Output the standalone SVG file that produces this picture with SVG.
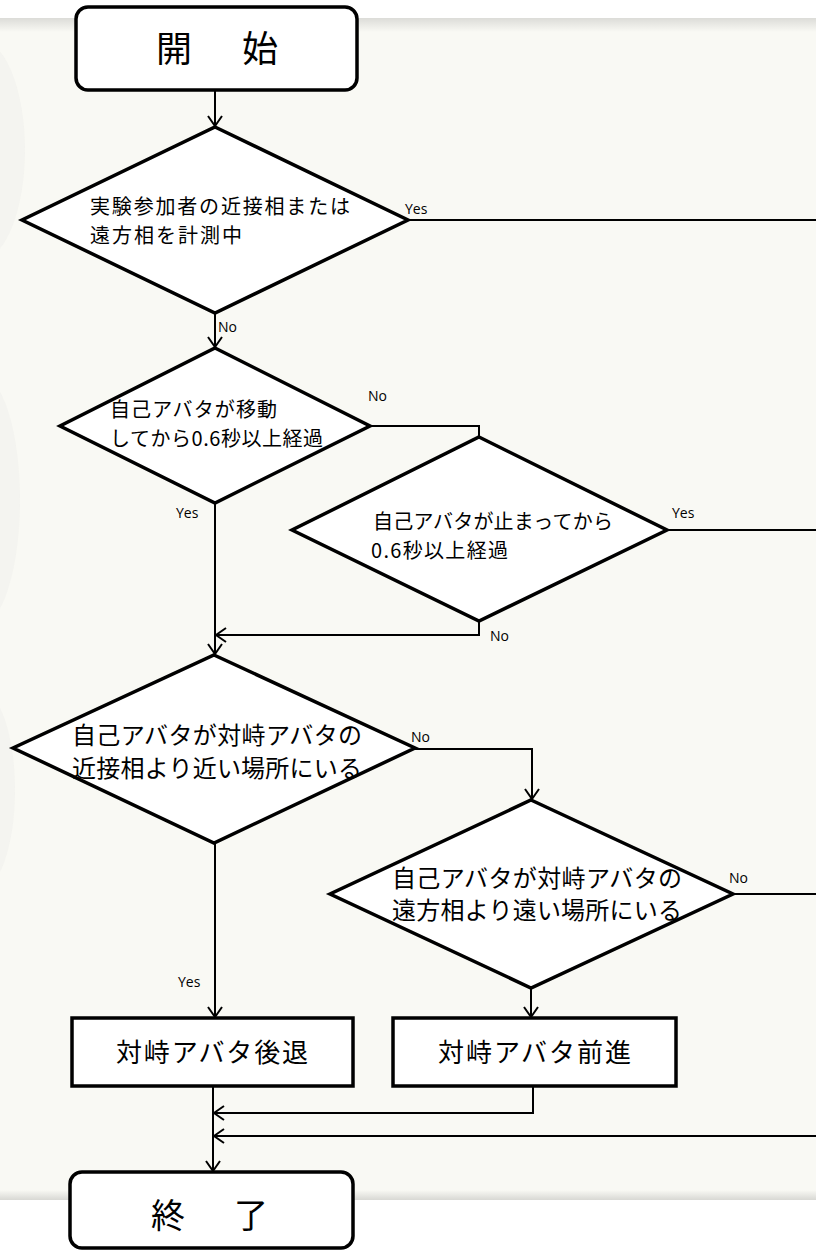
<svg xmlns="http://www.w3.org/2000/svg" width="816" height="1252" viewBox="0 0 816 1252">
<style>
.node{fill:#fff;stroke:#000;stroke-width:3.5;stroke-linejoin:miter}
.con{fill:none;stroke:#000;stroke-width:2}
.jp{font-family:"Noto Sans CJK JP","Noto Sans CJK SC",sans-serif;fill:#000}
.lbl{font-family:"Open Sans","Noto Sans",sans-serif;font-size:14px;fill:#000}
</style>
<defs>
<marker id="arr" markerWidth="14" markerHeight="16" refX="12" refY="8" orient="auto" markerUnits="userSpaceOnUse">
<path d="M2,1 L12,8 L2,15" fill="none" stroke="#000" stroke-width="2"/>
</marker>
<linearGradient id="topsh" x1="0" y1="0" x2="0" y2="1">
<stop offset="0" stop-color="#dcdcd8"/>
<stop offset="1" stop-color="#f9f9f4"/>
</linearGradient>
<linearGradient id="botsh" x1="0" y1="0" x2="0" y2="1">
<stop offset="0" stop-color="#f9f9f4"/>
<stop offset="1" stop-color="#d8d8d4"/>
</linearGradient>
</defs>
<g id="background">
<rect x="0" y="0" width="816" height="1252" fill="#ffffff"/>
<rect x="0" y="18" width="816" height="1182" fill="#f9f9f4"/>
<rect x="0" y="18" width="816" height="14" fill="url(#topsh)"/>
<rect x="0" y="1190" width="816" height="10" fill="url(#botsh)"/>
<ellipse cx="-20" cy="150" rx="45" ry="110" fill="#f0f0ec" opacity="0.6"/>
<ellipse cx="-20" cy="500" rx="40" ry="125" fill="#f0f0ec" opacity="0.6"/>
<ellipse cx="-20" cy="790" rx="35" ry="100" fill="#f0f0ec" opacity="0.6"/>
</g>
<g id="connectors">
<path class="con" d="M215,90 L215,126" marker-end="url(#arr)"/>
<path class="con" d="M215,313 L215,347" marker-end="url(#arr)"/>
<path class="con" d="M408,220 L816,220"/>
<path class="con" d="M370,426 L479,426 L479,437"/>
<path class="con" d="M215,503 L215,654" marker-end="url(#arr)"/>
<path class="con" d="M667,530 L816,530"/>
<path class="con" d="M479,621 L479,635 L216,635" marker-end="url(#arr)"/>
<path class="con" d="M415,749 L532,749 L532,799" marker-end="url(#arr)"/>
<path class="con" d="M215,843 L215,1017" marker-end="url(#arr)"/>
<path class="con" d="M733,894 L816,894"/>
<path class="con" d="M531,988 L531,1017" marker-end="url(#arr)"/>
<path class="con" d="M213,1086 L213,1171" marker-end="url(#arr)"/>
<path class="con" d="M533,1086 L533,1113 L214,1113" marker-end="url(#arr)"/>
<path class="con" d="M816,1136 L214,1136" marker-end="url(#arr)"/>
<text class="lbl" x="405" y="214">Yes</text>
<text class="lbl" x="218" y="332">No</text>
<text class="lbl" x="368" y="401">No</text>
<text class="lbl" x="176" y="518">Yes</text>
<text class="lbl" x="672" y="518">Yes</text>
<text class="lbl" x="490" y="641">No</text>
<text class="lbl" x="411" y="742">No</text>
<text class="lbl" x="729" y="883">No</text>
<text class="lbl" x="178" y="987">Yes</text>
</g>
<g id="start">
<rect class="node" x="76" y="7" width="281" height="83" rx="12"/>
<text class="jp" x="156" y="62" font-size="36" textLength="122" lengthAdjust="spacing">開　始</text>
</g>
<g id="d1">
<polygon class="node" points="215,127 408,220 215,313 22,220"/>
<text class="jp" x="90" y="214" font-size="20" textLength="260" lengthAdjust="spacing">実験参加者の近接相または</text>
<text class="jp" x="90" y="243" font-size="20" textLength="152" lengthAdjust="spacing">遠方相を計測中</text>
</g>
<g id="d2">
<polygon class="node" points="215,348 370,426 215,503 60,426"/>
<text class="jp" x="110" y="417" font-size="20" textLength="167" lengthAdjust="spacing">自己アバタが移動</text>
<text class="jp" x="110" y="446" font-size="20" textLength="213" lengthAdjust="spacing">してから0.6秒以上経過</text>
</g>
<g id="d3">
<polygon class="node" points="479,437 667,530 479,621 292,530"/>
<text class="jp" x="373" y="529" font-size="20" textLength="240" lengthAdjust="spacing">自己アバタが止まってから</text>
<text class="jp" x="371" y="558" font-size="20" textLength="137" lengthAdjust="spacing">0.6秒以上経過</text>
</g>
<g id="d4">
<polygon class="node" points="214,655 415,748 214,843 13,748"/>
<text class="jp" x="72" y="744" font-size="24" textLength="290" lengthAdjust="spacing">自己アバタが対峙アバタの</text>
<text class="jp" x="72" y="777" font-size="24" textLength="290" lengthAdjust="spacing">近接相より近い場所にいる</text>
</g>
<g id="d5">
<polygon class="node" points="531,800 733,894 531,988 330,894"/>
<text class="jp" x="392" y="887" font-size="24" textLength="290" lengthAdjust="spacing">自己アバタが対峙アバタの</text>
<text class="jp" x="392" y="919" font-size="24" textLength="290" lengthAdjust="spacing">遠方相より遠い場所にいる</text>
</g>
<g id="b1">
<rect class="node" x="72" y="1018" width="281" height="68"/>
<text class="jp" x="116" y="1062" font-size="26" textLength="192" lengthAdjust="spacing">対峙アバタ後退</text>
</g>
<g id="b2">
<rect class="node" x="393" y="1018" width="283" height="68"/>
<text class="jp" x="438" y="1062" font-size="26" textLength="193" lengthAdjust="spacing">対峙アバタ前進</text>
</g>
<g id="end">
<rect class="node" x="70" y="1172" width="283" height="76" rx="12"/>
<text class="jp" x="151" y="1228" font-size="34" textLength="117" lengthAdjust="spacing">終　了</text>
</g>
</svg>
